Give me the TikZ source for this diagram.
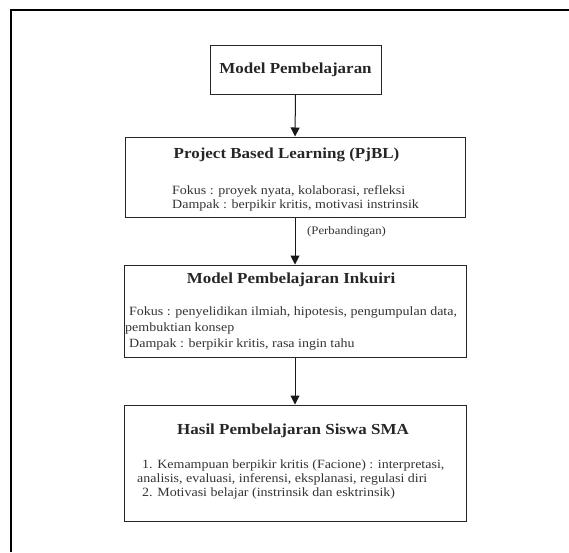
\documentclass[tikz,border=0pt]{standalone}
\usepackage{fontspec}
\setmainfont[FakeStretch=1.11]{Liberation Serif}
\usetikzlibrary{arrows.meta}
\begin{document}
\begin{tikzpicture}[x=1pt,y=-1pt,
  box/.style={draw=black!85, line width=1pt, inner sep=0pt},
  ttl/.style={font=\fontsize{15.3}{17}\selectfont\bfseries, text=black!85, inner sep=0pt},
  body/.style={font=\fontsize{12.6}{15}\selectfont, text=black!80, inner sep=0pt, anchor=mid west},
  small/.style={font=\fontsize{11.5}{13}\selectfont, text=black!80, inner sep=0pt, anchor=mid west},
  arr/.style={-{Triangle[length=9pt,width=9pt]}, line width=1pt, draw=black!90}]
\useasboundingbox (0,0) rectangle (569,552);
\draw[line width=1.4pt] (11,552) -- (11,10) -- (569,10);
% boxes
\node[box, minimum width=171pt, minimum height=49pt] (m) at (295.5,69.5) {};
\node[box, minimum width=340pt, minimum height=80pt] (p) at (295,177) {};
\node[box, minimum width=342pt, minimum height=92pt] (k) at (295,311) {};
\node[box, minimum width=342pt, minimum height=116pt] (h) at (295,463) {};
% titles
\node[ttl] (mt) at (295.5,69.5) {Model Pembelajaran};
\node[ttl] (pt) at (286.5,155) {Project Based Learning (PjBL)};
\node[ttl] (kt) at (291,280) {Model Pembelajaran Inkuiri};
\node[ttl] (ht) at (293,431) {Hasil Pembelajaran Siswa SMA};
% bodies
\node[body] (p1) at (172,192) {Fokus : proyek nyata, kolaborasi, refleksi};
\node[body] (p2) at (172,206) {Dampak : berpikir kritis, motivasi instrinsik};
\node[body] (k1) at (129,313) {Fokus : penyelidikan ilmiah, hipotesis, pengumpulan data,};
\node[body] (k2) at (125,329) {pembuktian konsep};
\node[body] (k3) at (129,345) {Dampak : berpikir kritis, rasa ingin tahu};
\node[body] (h1) at (142,466) {1. Kemampuan berpikir kritis (Facione) : interpretasi,};
\node[body] (h2) at (137,480) {analisis, evaluasi, inferensi, eksplanasi, regulasi diri};
\node[body] (h3) at (142,494) {2. Motivasi belajar (instrinsik dan esktrinsik)};
% arrows
\draw[arr] (m.south) -- (p.north);
\draw[arr] (p.south) -- (k.north);
\node[small] (lab) at (307,232) {(Perbandingan)};
\draw[arr] (k.south) -- (h.north);
\end{tikzpicture}
\end{document}
